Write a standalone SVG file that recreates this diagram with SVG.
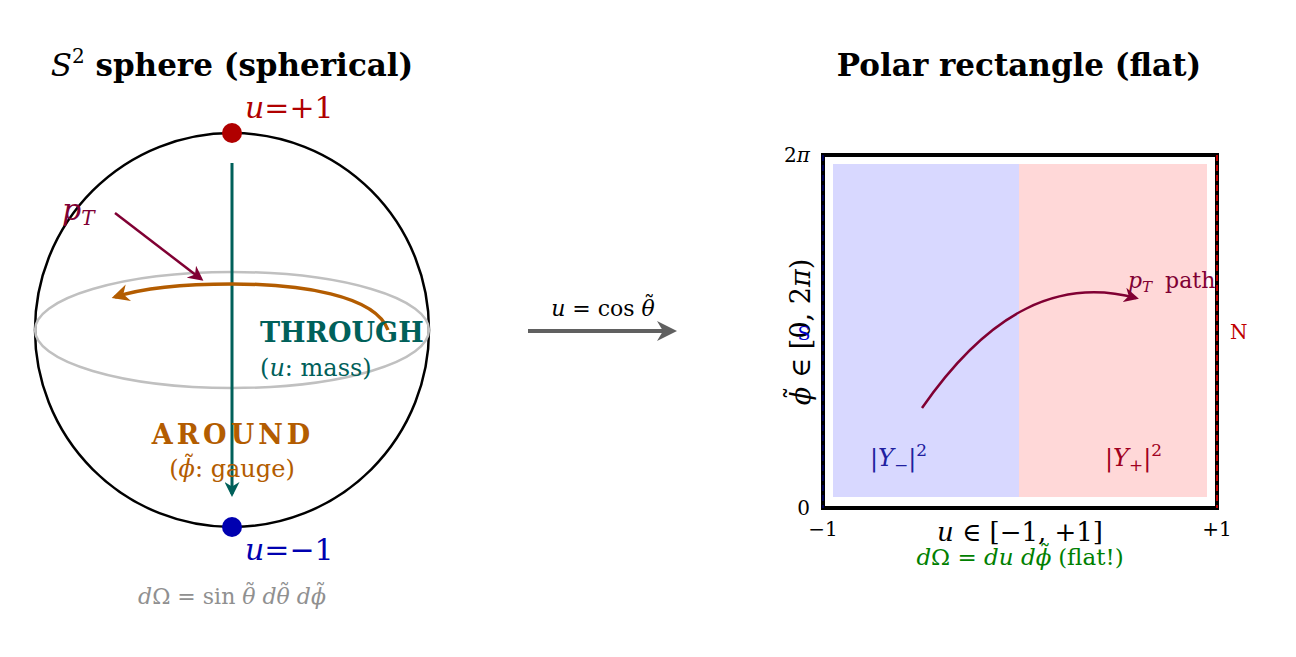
<svg xmlns="http://www.w3.org/2000/svg" width="1296" height="657" viewBox="0 0 1296 657">
<defs>
<style>
text{font-family:"DejaVu Serif","Liberation Serif",serif}
.it{font-style:italic}
.title{font-size:31px;font-weight:bold;fill:#000}
.bold{font-weight:bold}
</style>
<marker id="ahTeal" viewBox="0 0 10 10" refX="8" refY="5" markerWidth="5" markerHeight="5" orient="auto"><path d="M0,0 L10,5 L0,10 L3,5 Z" fill="#00605a"/></marker>
<marker id="ahOrange" viewBox="0 0 10 10" refX="8" refY="5" markerWidth="5" markerHeight="5" orient="auto"><path d="M0,0 L10,5 L0,10 L3,5 Z" fill="#b35c00"/></marker>
<marker id="ahMaroon" viewBox="0 0 10 10" refX="8" refY="5" markerWidth="6" markerHeight="6" orient="auto"><path d="M0,0 L10,5 L0,10 L3,5 Z" fill="#800033"/></marker>
<marker id="ahGray" viewBox="0 0 10 10" refX="8" refY="5" markerWidth="5" markerHeight="5" orient="auto"><path d="M0,0 L10,5 L0,10 L3,5 Z" fill="#606060"/></marker>
</defs>
<rect width="1296" height="657" fill="#fff"/>

<g id="title-left"><text x="232" y="76" text-anchor="middle" class="title"><tspan class="it" font-weight="normal">S</tspan><tspan font-size="20" dy="-13" font-weight="normal">2</tspan><tspan dy="13"> sphere (spherical)</tspan></text></g>
<g id="title-right"><text x="1019" y="76" text-anchor="middle" class="title">Polar rectangle (flat)</text></g>

<g id="sphere">
<circle cx="232" cy="330" r="197" fill="none" stroke="#000" stroke-width="2.5"/>
<ellipse cx="232" cy="330" rx="197" ry="58" fill="none" stroke="#c0c0c0" stroke-width="2.5"/>
</g>

<g id="connectors">
<line x1="232" y1="163" x2="232" y2="494" stroke="#00605a" stroke-width="3" marker-end="url(#ahTeal)"/>
<path d="M388,330 C375,295 300,284 232,284 C180,284 140,289 115,297" fill="none" stroke="#b35c00" stroke-width="3.5" marker-end="url(#ahOrange)"/>
<line x1="115" y1="213" x2="201" y2="279" stroke="#800033" stroke-width="2.5" marker-end="url(#ahMaroon)"/>
<line x1="528" y1="331" x2="673" y2="331" stroke="#606060" stroke-width="4" marker-end="url(#ahGray)"/>
</g>

<g id="north-pole">
<circle cx="232" cy="133" r="10" fill="#b00000"/>
<text x="245" y="118" font-size="30" fill="#b00000"><tspan class="it">u</tspan>=+1</text>
</g>
<g id="south-pole">
<circle cx="232" cy="527" r="10" fill="#0000b0"/>
<text x="245" y="560" font-size="30" fill="#0000b0"><tspan class="it">u</tspan>=−1</text>
</g>

<g id="pT-label"><text x="62" y="220" font-size="30" fill="#800033" class="it">p<tspan font-size="20" dy="5">T</tspan></text></g>

<g id="through-label">
<text x="260" y="342" font-size="27" fill="#00605a" class="bold">THROUGH</text>
<text x="260" y="376" font-size="24" fill="#00605a">(<tspan class="it">u</tspan>: mass)</text>
</g>
<g id="around-label">
<text x="233" y="444" font-size="27" fill="#b35c00" text-anchor="middle" class="bold" letter-spacing="4">AROUND</text>
<text x="232" y="477" font-size="24" fill="#b35c00" text-anchor="middle">(<tspan class="it">ϕ</tspan><tspan dx="-12" dy="-4">˜</tspan><tspan dy="4">: gauge)</tspan></text>
</g>
<g id="measure-left"><text x="232" y="604" font-size="22" fill="#909090" text-anchor="middle"><tspan class="it">d</tspan>Ω = sin <tspan class="it">θ</tspan><tspan dx="-11" dy="-4">˜</tspan><tspan dy="4" class="it"> dθ</tspan><tspan dx="-11" dy="-4">˜</tspan><tspan dy="4" class="it"> dϕ</tspan><tspan dx="-11" dy="-4">˜</tspan></text></g>

<g id="map-label"><text x="603" y="316" font-size="22" fill="#000" text-anchor="middle"><tspan class="it">u</tspan> = cos <tspan class="it">θ</tspan><tspan dx="-11" dy="-4">˜</tspan></text></g>

<g id="rectangle">
<rect x="833" y="164" width="186" height="333" fill="#d8d8ff"/>
<rect x="1019" y="164" width="188" height="333" fill="#ffd8d8"/>
<rect x="823" y="155" width="394" height="353" fill="none" stroke="#000" stroke-width="4"/>
<line x1="823" y1="155" x2="823" y2="508" stroke="#0000b0" stroke-width="1" stroke-dasharray="6,4"/>
<line x1="1217" y1="155" x2="1217" y2="508" stroke="#c00000" stroke-width="2" stroke-dasharray="6,4"/>
<text x="810" y="162" font-size="20" text-anchor="end">2<tspan class="it">π</tspan></text>
<text x="810" y="515" font-size="20" text-anchor="end">0</text>
<text x="823" y="536" font-size="20" text-anchor="middle">−1</text>
<text x="1217" y="536" font-size="20" text-anchor="middle">+1</text>
<text x="1020" y="541" font-size="26" text-anchor="middle"><tspan class="it">u</tspan> ∈ [−1, +1]</text>
<text x="1020" y="565" font-size="23" fill="#008000" text-anchor="middle"><tspan class="it">d</tspan>Ω = <tspan class="it">du dϕ</tspan><tspan dx="-12" dy="-4">˜</tspan><tspan dy="4"> (flat!)</tspan></text>
<text transform="translate(810,332) rotate(-90)" font-size="27" text-anchor="middle"><tspan class="it">ϕ</tspan><tspan dx="-13" dy="-5">˜</tspan><tspan dy="5"> ∈ [0, 2</tspan><tspan class="it">π</tspan>)</text>
<text x="804" y="340" font-size="19" fill="#0000cc" text-anchor="middle">S</text>
<text x="1230" y="339" font-size="20" fill="#c00000">N</text>
<text x="870" y="466" font-size="24" fill="#2020a0">|<tspan class="it">Y</tspan><tspan font-size="17" dy="5">−</tspan><tspan dy="-5">|</tspan><tspan font-size="17" dy="-10">2</tspan></text>
<text x="1105" y="466" font-size="24" fill="#a00020">|<tspan class="it">Y</tspan><tspan font-size="17" dy="5">+</tspan><tspan dy="-5">|</tspan><tspan font-size="17" dy="-10">2</tspan></text>
</g>

<g id="pT-path">
<path d="M922,408 C990,310 1060,278 1136,298" fill="none" stroke="#800033" stroke-width="2.5" marker-end="url(#ahMaroon)"/>
<text x="1128" y="288" font-size="22" fill="#800033"><tspan class="it">p<tspan font-size="15" dy="4">T</tspan></tspan><tspan dy="-4" dx="6"> path</tspan></text>
</g>
</svg>
